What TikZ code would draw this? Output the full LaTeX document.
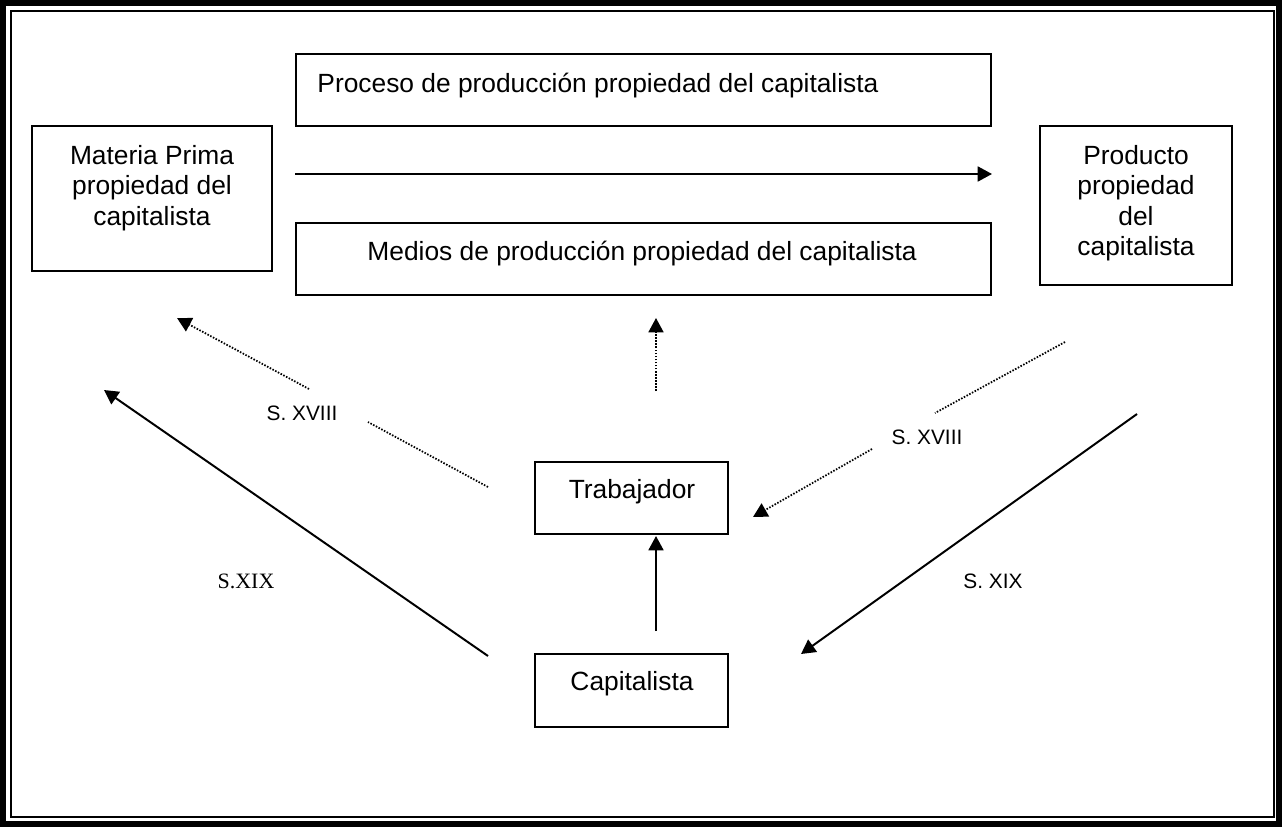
\documentclass[tikz,border=0pt]{standalone}
\usepackage{fontspec}
\setmainfont{Liberation Sans}
\newfontfamily\romanfont{Liberation Serif}
\usetikzlibrary{arrows.meta, fit}

\begin{document}
\begin{tikzpicture}[x=0.016cm, y=-0.016cm,
	every node/.style={font=\fontsize{12}{13.8}\selectfont, inner sep=0pt},
	box/.style={draw, line width=0.8pt, inner sep=0pt},
	tag/.style={font=\fontsize{9.5}{11}\selectfont},
	flow/.style={-{Triangle[length=6.5pt, width=6.8pt]}, line width=0.9pt},
	dots/.style={line width=0.8pt, dash pattern=on 0.7pt off 0.7pt}]
	\useasboundingbox (0,0) rectangle (1282,827);
	
	% Double frame
	\draw[line width=0.1cm] (3,3) rectangle (1279,824);
	\draw[line width=0.7pt] (11,11) rectangle (1274,817);
	
	% --- TOP ROW ---
	\node[box, fit={(32,126) (272,271)}] (mp) {};
	\node[anchor=north, align=center] (mp-txt) at (152,145) {Materia Prima\\propiedad del\\capitalista};
	
	\node[box, fit={(296,54) (991,126)}] (proc) {};
	\node[anchor=base west] (proc-txt) at (317,92) {Proceso de producción propiedad del capitalista};
	
	\node[box, fit={(296,223) (991,295)}] (med) {};
	\node[anchor=base west] (med-txt) at (367,260) {Medios de producción propiedad del capitalista};
	
	\node[box, fit={(1040,126) (1232,285)}] (prod) {};
	\node[anchor=north, align=center] (prod-txt) at (1136,145) {Producto\\propiedad\\del\\capitalista};
	
	% Flow from raw material to product
	\coordinate (flow-in) at (295,174);
	\coordinate (flow-out) at (992,174);
	\draw[flow] (flow-in) -- (flow-out);
	
	% --- WORKER AND CAPITALIST ---
	\node[box, fit={(535,462) (728,534)}] (trab) {};
	\node[anchor=base] (trab-txt) at (632,498) {Trabajador};
	
	\node[box, fit={(535,654) (728,727)}] (cap) {};
	\node[anchor=base] (cap-txt) at (632,690) {Capitalista};
	
	% S. XVIII (dotted)
	\coordinate (xviii-l-a) at (488,487);
	\coordinate (xviii-l-b) at (368,422);
	\coordinate (xviii-l-c) at (309,389);
	\coordinate (xviii-l-d) at (177,318);
	\draw[dots] (xviii-l-a) -- (xviii-l-b);
	\draw[flow, dots] (xviii-l-c) -- (xviii-l-d);
	\node[tag, anchor=base] (xviii-l) at (302,420) {S. XVIII};
	
	\coordinate (xviii-m-a) at (656,391);
	\coordinate (xviii-m-b) at (656,318);
	\draw[flow, dots] (xviii-m-a) -- (xviii-m-b);
	
	\coordinate (xviii-r-a) at (1065,342);
	\coordinate (xviii-r-b) at (935,413);
	\coordinate (xviii-r-c) at (872,449);
	\coordinate (xviii-r-d) at (753,517);
	\draw[dots] (xviii-r-a) -- (xviii-r-b);
	\draw[flow, dots] (xviii-r-c) -- (xviii-r-d);
	\node[tag, anchor=base] (xviii-r) at (927,444) {S. XVIII};
	
	% S. XIX (solid)
	\coordinate (xix-l-a) at (488,656);
	\coordinate (xix-l-b) at (104,390);
	\draw[flow] (xix-l-a) -- (xix-l-b);
	\node[anchor=base, font=\romanfont\fontsize{10}{12}\selectfont] (xix-l) at (246,588) {S.XIX};
	
	\coordinate (xix-r-a) at (1137,414);
	\coordinate (xix-r-b) at (801,654);
	\draw[flow] (xix-r-a) -- (xix-r-b);
	\node[tag, anchor=base] (xix-r) at (993,588) {S. XIX};
	
	\coordinate (hire-a) at (656,631);
	\coordinate (hire-b) at (656,536);
	\draw[flow] (hire-a) -- (hire-b);
\end{tikzpicture}
\end{document}
